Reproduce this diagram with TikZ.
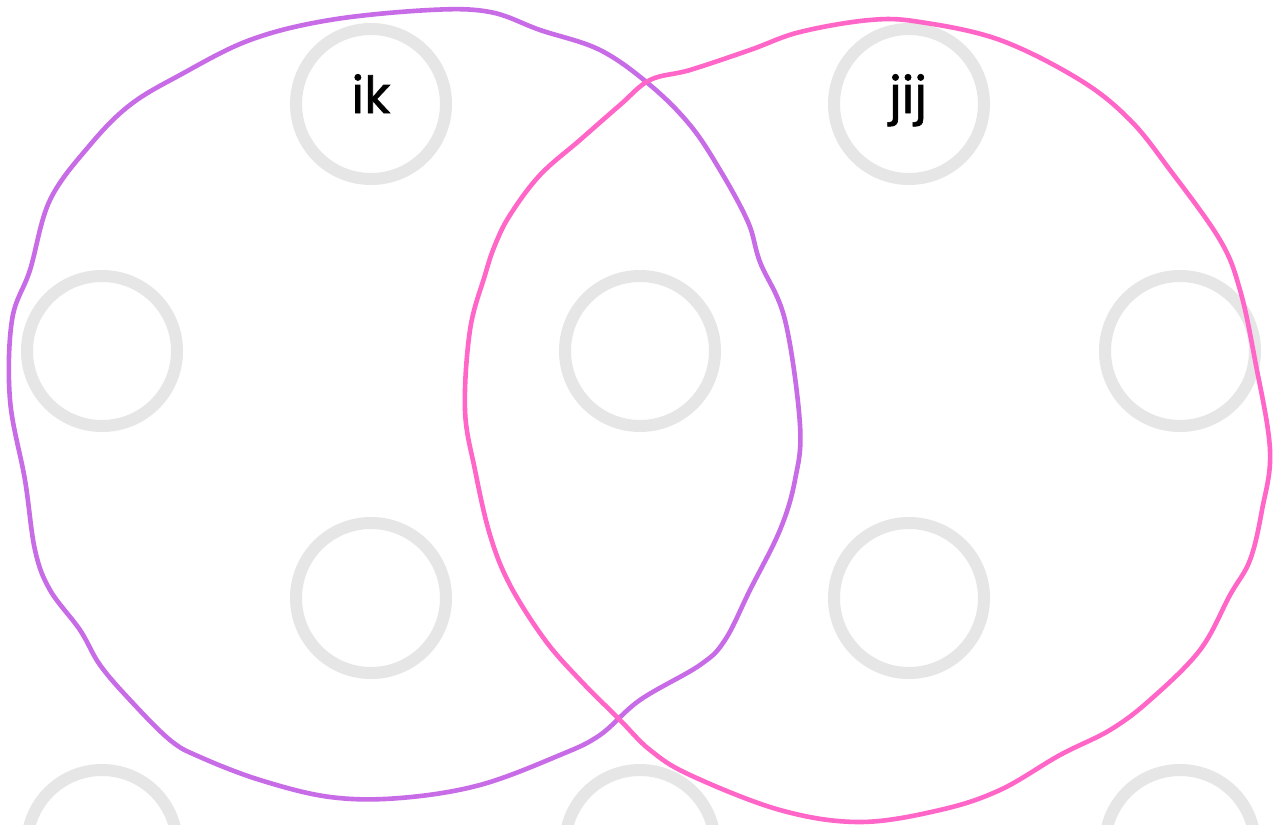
\documentclass[tikz,border=0pt]{standalone}
\usepackage{fontspec}
\setmainfont{Poppins}
\newfontfamily\lblfont[FakeBold=1.2]{Poppins}
\begin{document}
\begin{tikzpicture}[x=1pt,y=-1pt,
  greyring/.style={draw=ringgrey,line width=12pt},
  handp/.style={draw=purp,line width=4.6pt,line join=round},
  handk/.style={draw=pinkc,line width=4.6pt,line join=round},
  lbl/.style={font=\lblfont\fontsize{51}{56}\selectfont,anchor=base}]
\definecolor{ringgrey}{HTML}{E6E6E6}
\definecolor{purp}{HTML}{C86BE6}
\definecolor{pinkc}{HTML}{FF66C8}
\useasboundingbox[fill=white] (0,0) rectangle (1278,825);
\foreach \n/\x/\y in {a/371/104,b/909/104,c/102/351,d/640/351,e/1180/351,f/371/598,g/909/598,h/102/845,i/640/845,j/1180/845}
  \node[greyring,circle,minimum size=150pt,inner sep=0pt] (r\n) at (\x,\y) {};
\draw[handp] plot[smooth cycle,tension=0.6] coordinates {
(330,20) (430,10) (490,12) (540,30) (600,50) (650,85) (690,125) (720,170) (748,222) (760,262) (785,320) (800,425) (795,480) (780,530) (750,590) (725,640) (700,665) (640,700) (600,735) (560,755) (480,785) (400,798) (330,797) (260,780) (200,757) (170,740) (130,700) (100,665) (80,630) (50,590) (35,550) (25,480) (10,400) (12,320) (30,270) (50,200) (90,145) (130,105) (180,75) (250,40)};
\draw[handk] plot[smooth cycle,tension=0.6] coordinates {
(650,80) (690,70) (750,50) (800,32) (870,20) (920,22) (1000,40) (1080,80) (1130,120) (1170,170) (1220,240) (1240,290) (1255,360) (1270,450) (1262,510) (1250,560) (1230,595) (1200,650) (1150,700) (1110,730) (1060,755) (1000,790) (940,810) (860,822) (780,810) (690,775) (650,750) (620,720) (580,680) (545,640) (510,585) (490,535) (475,470) (465,410) (470,330) (485,275) (495,245) (510,215) (540,175) (580,140) (620,105)};
\node[lbl] (tik) at (371,113) {ik};
\node[lbl] (tjij) at (908,113) {jij};
\end{tikzpicture}
\end{document}
